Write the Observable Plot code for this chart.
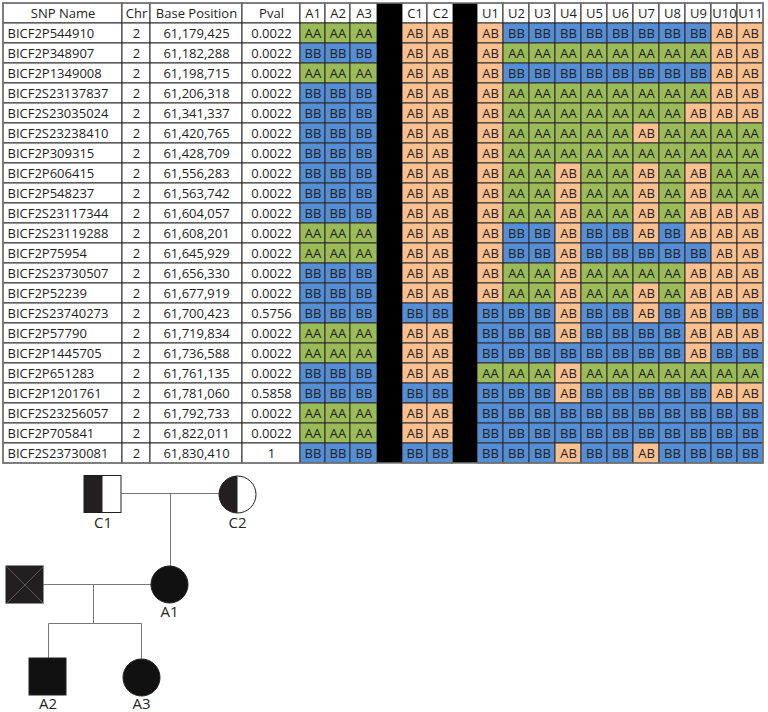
<!DOCTYPE html>
<html>
<head>
<meta charset="utf-8">
<script src="https://cdn.jsdelivr.net/npm/d3@7"></script>
<script src="https://cdn.jsdelivr.net/npm/@observablehq/plot@0.6"></script>
<style>
  html, body { margin: 0; padding: 0; background: #fff; }
  #chart svg { display: block; }
</style>
</head>
<body>
<div id="chart"></div>
<script>
// ---------------- DATA ----------------
const snpNames = ["BICF2P544910","BICF2P348907","BICF2P1349008","BICF2S23137837","BICF2S23035024","BICF2S23238410","BICF2P309315","BICF2P606415","BICF2P548237","BICF2S23117344","BICF2S23119288","BICF2P75954","BICF2S23730507","BICF2P52239","BICF2S23740273","BICF2P57790","BICF2P1445705","BICF2P651283","BICF2P1201761","BICF2S23256057","BICF2P705841","BICF2S23730081"];
const chromosome = [2,2,2,2,2,2,2,2,2,2,2,2,2,2,2,2,2,2,2,2,2,2];
const basePositions = [61179425,61182288,61198715,61206318,61341337,61420765,61428709,61556283,61563742,61604057,61608201,61645929,61656330,61677919,61700423,61719834,61736588,61761135,61781060,61792733,61822011,61830410];
const pvals = ["0.0022","0.0022","0.0022","0.0022","0.0022","0.0022","0.0022","0.0022","0.0022","0.0022","0.0022","0.0022","0.0022","0.0022","0.5756","0.0022","0.0022","0.0022","0.5858","0.0022","0.0022","1"];
const affected = ["A1","A2","A3"];
const carriers = ["C1","C2"];
const unaffected = ["U1","U2","U3","U4","U5","U6","U7","U8","U9","U10","U11"];
const genoAffected = ["AA AA AA","BB BB BB","AA AA AA","BB BB BB","BB BB BB","BB BB BB","BB BB BB","BB BB BB","BB BB BB","BB BB BB","AA AA AA","AA AA AA","BB BB BB","BB BB BB","BB BB BB","AA AA AA","AA AA AA","BB BB BB","BB BB BB","AA AA AA","AA AA AA","BB BB BB"];
const genoCarriers = ["AB AB","AB AB","AB AB","AB AB","AB AB","AB AB","AB AB","AB AB","AB AB","AB AB","AB AB","AB AB","AB AB","AB AB","BB BB","AB AB","AB AB","AB AB","BB BB","AB AB","AB AB","BB BB"];
const genoUnaffected = [
  "AB BB BB BB BB BB BB BB BB AB AB",
  "AB AA AA AA AA AA AA AA AA AB AB",
  "AB BB BB BB BB BB BB BB BB AB AB",
  "AB AA AA AA AA AA AA AA AA AB AB",
  "AB AA AA AA AA AA AA AA AB AB AB",
  "AB AA AA AA AA AA AB AA AA AA AA",
  "AB AA AA AA AA AA AA AA AA AA AA",
  "AB AA AA AB AA AA AB AA AB AA AA",
  "AB AA AA AB AA AA AB AA AB AA AA",
  "AB AA AA AB AA AA AB AA AB AB AB",
  "AB BB BB AB BB BB AB BB AB AB AB",
  "AB BB BB AB BB BB BB BB BB AB AB",
  "AB AA AA AB AA AA AA AA AB AB AB",
  "AB AA AA AB AA AA AB AA AB AB AB",
  "BB BB BB AB BB BB AB BB AB BB BB",
  "BB BB BB AB BB BB BB BB AB AB AB",
  "BB BB BB BB BB BB BB BB AB BB BB",
  "AA AA AA AB AA AA AA AA AA AA AA",
  "BB BB BB AB BB BB BB BB BB AB AB",
  "BB BB BB BB BB BB BB BB BB BB BB",
  "BB BB BB BB BB BB BB BB BB BB BB",
  "BB BB BB AB BB BB AB BB BB BB BB"
];
// pedigree members: id, sex, status, label
const pedigreeIds = ["C1","C2","P","A1","A2","A3"];
const pedigreeSex = ["M","F","M","F","M","F"];
const pedigreeStatus = ["carrier","carrier","unknown","affected","affected","affected"];
const pedigreeLabels = ["C1","C2","","A1","A2","A3"];

// ---------------- LAYOUT (not data) ----------------
const genoColor = {AA: "#9bbb59", BB: "#558ed5", AB: "#fac090"};
const FONT = "'Open Sans', sans-serif";
const tableX0 = 3, tableY0 = 3, headH = 20, rowH = 20;
const colSpec = [
  {label: "SNP Name", w: 119, kind: "snp"},
  {label: "Chr", w: 28, kind: "chr"},
  {label: "Base Position", w: 92, kind: "pos"},
  {label: "Pval", w: 58, kind: "pval"},
  ...affected.map((d, i) => ({label: d, w: [25,25,27][i], kind: "A", idx: i})),
  {label: "", w: 25, kind: "sep"},
  ...carriers.map((d, i) => ({label: d, w: [25,26][i], kind: "C", idx: i})),
  {label: "", w: 24, kind: "sep"},
  ...unaffected.map((d, i) => ({label: d, w: 26, kind: "U", idx: i}))
];
let acc = tableX0;
colSpec.forEach(c => { c.x1 = acc; acc += c.w; c.x2 = acc; });
const tableBottom = tableY0 + headH + rowH * snpNames.length;

const fmt = d3.format(",");
const cells = [];
const seps = [];
colSpec.forEach(c => {
  if (c.kind === "sep") { seps.push({x1: c.x1, x2: c.x2, y1: tableY0, y2: tableBottom}); return; }
  cells.push({x1: c.x1, x2: c.x2, y1: tableY0, y2: tableY0 + headH, fill: "#ffffff", text: c.label, left: false, tx: (c.x1 + c.x2) / 2});
  snpNames.forEach((name, r) => {
    const y1 = tableY0 + headH + r * rowH;
    let text, fill = "#ffffff", left = false, tx = (c.x1 + c.x2) / 2;
    if (c.kind === "snp") { text = name; left = true; tx = c.x1 + 4; }
    else if (c.kind === "chr") text = String(chromosome[r]);
    else if (c.kind === "pos") text = fmt(basePositions[r]);
    else if (c.kind === "pval") text = pvals[r];
    else {
      const src = c.kind === "A" ? genoAffected : c.kind === "C" ? genoCarriers : genoUnaffected;
      text = src[r].split(" ")[c.idx];
      fill = genoColor[text];
    }
    cells.push({x1: c.x1, x2: c.x2, y1, y2: y1 + rowH, fill, text, left, tx});
  });
});

// pedigree layout
const pedPos = {C1: [102.5, 494], C2: [237, 494], P: [24.5, 584.5], A1: [169, 584], A2: [47.5, 676.5], A3: [141, 677]};
const labelY = {C1: 523, C2: 523, A1: 612, A2: 704, A3: 704};
const half = 18.5;
const ped = pedigreeIds.map((id, i) => ({id, sex: pedigreeSex[i], status: pedigreeStatus[i], label: pedigreeLabels[i], x: pedPos[id][0], y: pedPos[id][1]}));
const squares = ped.filter(d => d.sex === "M");
const circles = ped.filter(d => d.sex === "F");
const pedLines = [
  {x1: 121, y1: 493, x2: 219, y2: 493},
  {x1: 170, y1: 493, x2: 170, y2: 566},
  {x1: 43, y1: 584, x2: 151, y2: 584},
  {x1: 93, y1: 584, x2: 93, y2: 623},
  {x1: 48, y1: 623, x2: 141, y2: 623},
  {x1: 48, y1: 623, x2: 48, y2: 658},
  {x1: 141, y1: 623, x2: 141, y2: 658}
];
const unknownX = squares.filter(d => d.status === "unknown").flatMap(d => [
  {x1: d.x - half, y1: d.y - half, x2: d.x + half, y2: d.y + half},
  {x1: d.x - half, y1: d.y + half, x2: d.x + half, y2: d.y - half}
]);
const halfDisk = {
  draw(context, size) {
    const r = Math.sqrt(size / Math.PI);
    context.moveTo(0, -r);
    context.arc(0, 0, r, -Math.PI / 2, Math.PI / 2, true);
    context.closePath();
  }
};

const chart = Plot.plot({
  width: 768,
  height: 712,
  margin: 0,
  style: {background: "#ffffff", fontFamily: FONT},
  x: {type: "linear", domain: [0, 768], range: [0, 768], axis: null},
  y: {type: "linear", domain: [0, 712], range: [0, 712], axis: null},
  marks: [
    Plot.rect(cells, {x1: "x1", x2: "x2", y1: "y1", y2: "y2", fill: "fill", stroke: "#2a2a2a", strokeWidth: 1}),
    Plot.rect(seps, {x1: "x1", x2: "x2", y1: "y1", y2: "y2", fill: "#000000"}),
    Plot.rect([{x1: tableX0, x2: colSpec[colSpec.length - 1].x2, y1: tableY0, y2: tableBottom}], {x1: "x1", x2: "x2", y1: "y1", y2: "y2", fill: "none", stroke: "#777", strokeWidth: 1.5}),
    Plot.text(cells.filter(d => !d.left), {x: "tx", y: d => (d.y1 + d.y2) / 2, text: "text", textAnchor: "middle", fontSize: 13, fill: "#1e1e1e", fontFamily: FONT}),
    Plot.text(cells.filter(d => d.left), {x: "tx", y: d => (d.y1 + d.y2) / 2, text: "text", textAnchor: "start", fontSize: 13, fill: "#1e1e1e", fontFamily: FONT}),
    // pedigree lines
    Plot.link(pedLines, {x1: "x1", y1: "y1", x2: "x2", y2: "y2", stroke: "#777", strokeWidth: 1}),
    // squares
    Plot.rect(squares, {x1: d => d.x - half, x2: d => d.x + half, y1: d => d.y - half, y2: d => d.y + half,
      fill: d => d.status === "carrier" ? "#ffffff" : d.status === "unknown" ? "#231f20" : "#111111", stroke: "#231f20", strokeWidth: 1}),
    Plot.rect(squares.filter(d => d.status === "carrier"), {x1: d => d.x - half, x2: d => d.x, y1: d => d.y - half, y2: d => d.y + half, fill: "#231f20"}),
    Plot.link(unknownX, {x1: "x1", y1: "y1", x2: "x2", y2: "y2", stroke: "#5a5a5a", strokeWidth: 1}),
    // circles
    Plot.dot(circles, {x: "x", y: "y", r: half, fill: d => d.status === "carrier" ? "#ffffff" : "#111111", stroke: "#231f20", strokeWidth: 1}),
    Plot.dot(circles.filter(d => d.status === "carrier"), {x: "x", y: "y", r: half, symbol: halfDisk, fill: "#231f20", stroke: "none"}),
    // labels
    Plot.text(ped.filter(d => d.label), {x: "x", y: d => labelY[d.id], text: "label", fontSize: 15, fill: "#231f20", fontFamily: FONT})
  ]
});
document.getElementById("chart").appendChild(chart);
</script>
</body>
</html>
